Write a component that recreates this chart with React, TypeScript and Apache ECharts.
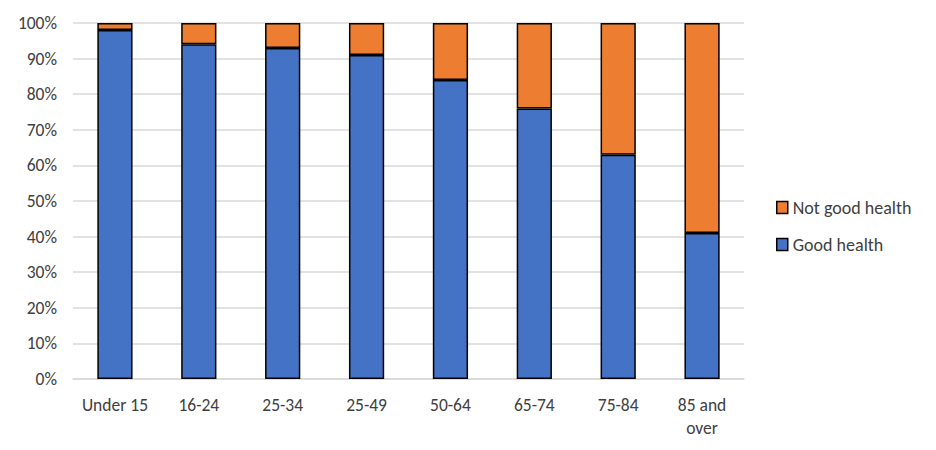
import React, { useEffect, useRef } from "react";
import * as echarts from "echarts";

const categories = ["Under 15", "16-24", "25-34", "25-49", "50-64", "65-74", "75-84", "85 and\nover"];
const goodHealth = [98, 94, 93, 91, 84, 76, 63, 41];
const notGoodHealth = [2, 6, 7, 9, 16, 24, 37, 59];

const FONT = "Carlito, Calibri, 'Noto Sans', 'Liberation Sans', sans-serif";

export default function App() {
  const ref = useRef<HTMLDivElement>(null);
  useEffect(() => {
    if (!ref.current) return;
    const chart = echarts.init(ref.current, undefined, { renderer: "svg" });
    chart.setOption({
      animation: false,
      textStyle: { fontFamily: FONT },
      grid: { left: 65, right: 184, top: 15, bottom: 63, containLabel: false },
      legend: {
        orient: "vertical",
        left: 768,
        top: 190,
        padding: 0,
        itemWidth: 11,
        itemHeight: 12,
        itemGap: 18,
        icon: "rect",
        data: ["Not good health", "Good health"],
        itemStyle: { borderColor: "#000", borderWidth: 1.5 },
        textStyle: { fontSize: 18, color: "#404040", fontFamily: FONT, lineHeight: 19 },
      },
      xAxis: {
        type: "category",
        data: categories,
        axisLine: { lineStyle: { color: "#D9D9D9", width: 1.5 } },
        axisTick: { show: false },
        axisLabel: { color: "#404040", fontSize: 17.5, margin: 14, lineHeight: 23, interval: 0 },
      },
      yAxis: {
        type: "value",
        min: 0,
        max: 100,
        interval: 10,
        axisLine: { show: false },
        axisTick: { show: false },
        splitLine: { lineStyle: { color: "#D9D9D9", width: 1.5 } },
        axisLabel: { color: "#404040", fontSize: 17.5, margin: 16, formatter: "{value}%" },
      },
      series: [
        {
          name: "Good health",
          type: "bar",
          stack: "total",
          data: goodHealth,
          barWidth: "42%",
          itemStyle: { color: "#4472C4", borderColor: "#000", borderWidth: 1.5 },
        },
        {
          name: "Not good health",
          type: "bar",
          stack: "total",
          data: notGoodHealth,
          barWidth: "42%",
          itemStyle: { color: "#ED7D31", borderColor: "#000", borderWidth: 1.5 },
        },
      ],
    });
    return () => chart.dispose();
  }, []);
  return <div ref={ref} style={{ width: 920, height: 434 }} />;
}
